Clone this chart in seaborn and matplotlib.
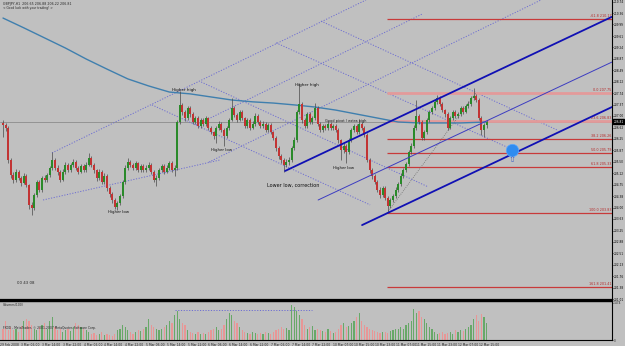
import numpy as np
import pandas as pd
import matplotlib
matplotlib.use("Agg")
import matplotlib.pyplot as plt
import seaborn as sns

# ---------------- data ----------------
first_open = 206.78
close = [206.70,206.61,205.56,205.07,204.91,205.17,204.97,204.81,205.04,204.74,
         204.09,203.99,204.41,204.84,204.58,204.97,204.91,205.07,205.30,205.56,
         205.30,205.17,204.91,205.17,205.40,205.23,205.40,205.49,205.30,205.17,
         205.36,205.23,205.40,205.62,205.40,205.23,204.97,205.17,204.84,205.04,
         204.64,204.45,204.25,204.02,204.15,204.38,204.84,205.30,205.49,205.40,
         205.30,205.46,205.23,205.36,205.23,205.30,205.40,205.17,204.91,204.97,
         205.23,205.36,205.17,205.30,205.46,205.23,205.30,206.80,207.36,207.13,
         206.93,207.26,207.06,206.80,206.93,206.67,206.87,206.74,206.93,206.61,
         206.47,206.34,206.61,206.74,206.54,206.34,206.61,206.87,207.26,207.03,
         206.87,207.13,206.93,206.67,206.87,206.61,206.74,207.00,206.80,206.67,
         206.74,206.54,206.70,206.47,206.28,205.95,205.69,205.56,205.40,205.49,
         205.56,205.95,206.21,207.13,207.39,206.87,206.67,207.06,206.80,206.93,
         207.26,206.74,206.54,206.67,206.61,206.74,206.61,206.67,206.54,206.21,
         205.89,206.02,205.82,206.21,206.54,206.67,206.47,206.74,206.61,206.38,
         205.56,205.23,205.04,204.84,204.58,204.41,204.64,204.32,204.05,204.25,
         204.38,204.58,204.77,205.04,205.23,205.43,205.82,206.02,206.61,207.00,
         206.80,206.28,206.47,206.87,207.13,207.26,207.46,207.59,207.39,207.19,
         207.06,206.61,206.93,207.13,207.00,207.06,207.26,207.13,207.32,207.39,
         207.59,207.65,207.52,206.93,206.54,206.70,206.81]
high = [206.85,206.76,206.66,205.62,205.15,205.25,205.22,205.02,205.12,205.10,
        204.78,204.18,204.48,204.92,204.90,205.04,205.06,205.14,205.37,205.82,
        205.62,205.38,205.24,205.25,205.48,205.46,205.47,205.58,205.55,205.36,
        205.44,205.42,205.48,205.79,205.68,205.46,205.28,205.25,205.22,205.12,
        205.09,204.70,204.52,204.30,204.22,204.46,204.92,205.38,205.62,205.56,
        205.46,205.54,205.50,205.44,205.42,205.38,205.48,205.45,205.22,205.06,
        205.30,205.44,205.42,205.38,205.54,205.52,205.38,206.88,207.80,207.42,
        207.20,207.34,207.32,207.12,207.00,206.99,206.94,206.92,207.00,206.98,
        206.66,206.52,206.68,206.82,206.80,206.60,206.68,206.94,207.59,207.32,
        207.10,207.20,207.18,206.98,206.94,206.92,206.82,207.08,207.06,206.86,
        206.82,206.80,206.78,206.76,206.52,206.34,206.00,205.75,205.62,205.58,
        205.64,206.02,206.30,207.20,208.08,207.45,206.94,207.14,207.12,207.00,
        207.42,207.32,206.80,206.74,206.74,206.82,206.80,206.74,206.72,206.60,
        206.26,206.10,206.08,206.28,206.62,206.74,206.72,206.87,206.80,206.66,
        206.44,205.62,205.30,205.10,204.90,204.66,204.72,204.70,204.38,204.32,
        204.46,204.66,204.85,205.12,205.30,205.50,205.90,206.10,206.70,207.52,
        207.06,206.86,206.54,206.94,207.20,207.34,207.54,207.68,207.64,207.44,
        207.24,207.12,207.00,207.20,207.18,207.14,207.34,207.32,207.40,207.48,
        207.66,207.91,207.72,207.58,207.00,206.78,206.88]
low = [206.32,206.50,205.45,204.98,204.82,204.85,204.90,204.72,204.76,204.66,
       203.95,203.76,203.92,204.35,204.50,204.52,204.84,204.85,205.00,205.24,
       205.22,205.08,204.84,204.86,205.10,205.15,205.18,205.34,205.22,205.10,
       205.12,205.16,205.18,205.35,205.33,205.14,204.88,204.90,204.76,204.78,
       204.55,204.36,204.16,203.94,203.92,204.10,204.32,204.78,205.24,205.32,
       205.22,205.24,205.16,205.18,205.16,205.17,205.24,205.10,204.84,204.71,
       204.92,205.18,205.10,205.12,205.24,205.16,205.04,205.24,206.74,207.02,
       206.84,206.88,206.98,206.72,206.74,206.60,206.62,206.68,206.68,206.54,
       206.40,206.26,206.12,206.55,206.46,206.02,206.28,206.55,206.82,206.96,
       206.80,206.82,206.86,206.60,206.62,206.54,206.56,206.68,206.72,206.60,
       206.60,206.46,206.48,206.40,206.20,205.86,205.60,205.46,205.17,205.32,
       205.40,205.50,205.88,206.14,207.06,206.78,206.60,206.60,206.72,206.74,
       206.88,206.66,206.46,206.48,206.54,206.55,206.54,206.54,206.46,206.12,
       205.56,205.80,205.46,205.76,206.14,206.48,206.40,206.42,206.54,206.30,
       205.48,205.14,204.95,204.76,204.50,204.32,204.35,204.24,203.86,203.98,
       204.18,204.32,204.52,204.70,204.98,205.16,205.36,205.76,205.96,206.55,
       206.72,206.20,206.22,206.40,206.80,207.06,207.20,207.40,207.32,207.12,
       206.98,206.54,206.56,206.88,206.92,206.94,207.00,207.06,207.08,207.26,
       207.32,207.52,207.44,206.86,206.36,206.30,206.62]
volume = [450,760,380,530,380,450,300,570,760,830,
          760,610,450,380,530,610,680,450,760,910,
          530,380,450,300,380,450,340,530,680,610,
          530,450,380,300,230,260,190,230,300,190,
          230,190,150,230,380,450,610,530,380,300,
          230,300,380,340,450,530,830,610,530,450,
          380,450,530,610,760,680,980,1130,830,680,
          610,380,300,260,230,300,230,260,230,300,
          380,450,530,380,450,610,830,1060,980,760,
          680,530,380,300,260,230,300,260,230,260,
          230,300,260,230,300,380,450,530,450,490,
          380,1400,1290,1130,980,830,610,450,530,570,
          380,450,380,340,300,420,340,260,300,450,
          610,680,530,570,680,760,910,1060,760,610,
          530,450,380,340,300,260,300,300,260,340,
          380,420,450,530,450,610,680,760,1210,1060,
          1130,910,830,680,530,450,300,230,260,300,
          230,260,300,230,380,300,380,340,420,530,
          610,830,980,760,1020,910,680]

ma_bar = [0,8,16,24,32,40,48,56,64,72,80,88,96,104,112,120,128,136,144,152,160,168,176,186]
ma_val = [210.20,209.88,209.55,209.22,208.86,208.53,208.21,207.98,207.78,207.72,207.62,207.52,
          207.46,207.42,207.36,207.29,207.19,207.06,206.93,206.80,206.77,206.77,206.77,206.80]

date_tick_bars = list(range(-1, 184, 8))
date_labels = ["29 Feb 2008","3 Mar 06:00","3 Mar 14:00","3 Mar 22:00","4 Mar 06:00","4 Mar 14:00",
               "4 Mar 22:00","5 Mar 06:00","5 Mar 14:00","5 Mar 22:00","6 Mar 06:00","6 Mar 14:00",
               "6 Mar 22:00","7 Mar 06:00","7 Mar 14:00","7 Mar 22:00","10 Mar 07:00","10 Mar 15:00",
               "10 Mar 23:00","11 Mar 07:00","11 Mar 15:00","11 Mar 23:00","12 Mar 07:00","12 Mar 15:00"]

price_ticks = [201.01,201.38,201.76,202.13,202.51,202.88,203.25,203.63,204.00,204.38,204.75,
               205.12,205.50,205.87,206.25,206.62,207.00,207.37,207.74,208.12,208.49,208.87,
               209.24,209.61,209.99,210.36,210.74]

fib_names = ["-61.8","0.0","23.6","38.2","50.0","61.8","100.0","161.8"]
fib_prices = [210.17,207.75,206.83,206.26,205.79,205.33,203.83,201.41]
fib_start_bar = 147.7

# drawn objects: (bar0, price0, bar1, price1)
solid_lines = [(108.5,205.20,234.2,210.24),(138.1,203.43,234.2,207.29)]
median_line = [(121.2,204.25,234.2,208.76)]
dotted_lines = [(18.85,205.79,139.6,210.79),
                (74.2,206.70,161.2,210.33),
                (79.2,205.49,206.9,210.79),
                (15.4,204.25,83.5,205.56),
                (57.3,207.36,141.2,204.09),
                (76.2,208.11,163.5,204.68),
                (105.0,209.39,196.2,205.89),
                (122.3,210.10,213.1,206.54)]
fib_trend = (147.7,203.83,181.9,207.75)
target_bar, target_price = 195.8, 205.89

ann_text = ["Higher high","Higher low","Higher low","Higher high","Good pivot / extra high","Higher low","Lower low, correction"]
ann_bar = [69.6,44.5,84.2,116.9,131.9,130.8,111.5]
ann_price = [207.85,203.86,205.89,208.01,206.83,205.30,204.74]
ann_size = [3.0,2.8,2.8,3.0,2.5,2.8,3.5]

current_price = 206.81
vol_max_label = 1474

# ---------------- drawing ----------------
sns.set_style("white")
plt.rcParams["font.family"] = ["DejaVu Sans"]
BG = "#c0c0c0"
W, H = 625, 346
fig = plt.figure(figsize=(6.25, 3.46), dpi=100, facecolor=BG)
ax = fig.add_axes([0, 1 - 300 / H, 612 / W, 300 / H])
axv = fig.add_axes([0, 6 / H, 612 / W, 39 / H], sharex=ax)
for a in (ax, axv):
    a.set_facecolor(BG)
    for s in ("top", "left"):
        a.spines[s].set_visible(False)
    a.spines["right"].set_color("black")
    a.spines["right"].set_linewidth(0.8)
    a.spines["bottom"].set_color("black")
ax.spines["bottom"].set_linewidth(1.6)
axv.spines["bottom"].set_linewidth(0.8)
axv.spines["top"].set_visible(True)
axv.spines["top"].set_linewidth(1.0)
axv.spines["top"].set_color("black")

n = len(close)
bars = np.arange(n)
opens = [first_open] + close[:-1]
df = pd.DataFrame({"bar": bars, "open": opens, "close": close, "high": high, "low": low, "volume": volume})
df["up"] = df["close"] >= df["open"]

# current price line
ax.axhline(current_price, color="#8c8c8c", lw=0.6, zorder=1)

# dotted lattice
for (b0, p0, b1, p1) in dotted_lines:
    ax.plot([b0, b1], [p0, p1], color="#6e6ed2", lw=0.7, ls=(0, (1.2, 1.6)), zorder=2)

# fib levels
for name, p in zip(fib_names, fib_prices):
    light = name in ("0.0", "23.6")
    ax.hlines(p, fib_start_bar, 234.2, color="#e39a9a" if light else "#c83a3a",
              lw=2.0 if light else 0.9, zorder=2)
    ax.text(233.9, p + 0.025, f"{name} {p:.2f}", fontsize=2.4, color="#b52a2a",
            ha="right", va="bottom", zorder=6)
ax.plot([fib_trend[0], fib_trend[2]], [fib_trend[1], fib_trend[3]], color="#707070",
        lw=0.6, ls=(0, (1, 1.5)), zorder=2)

# moving average
sns.lineplot(x=ma_bar, y=ma_val, ax=ax, color="#3f7fae", lw=1.0, zorder=3)

# candles
bw = 0.7
for _, r in df.iterrows():
    col = "#2a8a2a" if r["up"] else "#c23434"
    ax.vlines(r["bar"], r["low"], r["high"], color="#4a4a4a", lw=0.5, zorder=4)
    h = r["close"] - r["open"]
    if abs(h) < 0.015:
        h = 0.015
    ax.bar(r["bar"], h, bottom=r["open"], width=bw, color=col, edgecolor="none", zorder=5)

# solid channel lines
for (b0, p0, b1, p1) in solid_lines:
    ax.plot([b0, b1], [p0, p1], color="#1010b4", lw=1.3, zorder=6)
for (b0, p0, b1, p1) in median_line:
    ax.plot([b0, b1], [p0, p1], color="#3c3cc0", lw=0.7, zorder=6)

# target circle + arrow
sns.scatterplot(x=[target_bar], y=[target_price], ax=ax, s=80, color="#2f8cf0",
                edgecolor="#5aa8ff", linewidth=0.5, zorder=7, legend=False)
ax.text(target_bar, target_price - 0.33, "⇧", color="#3a5ec8", fontsize=6, ha="center", va="center", zorder=7)

# annotations
for t, b, p, fs in zip(ann_text, ann_bar, ann_price, ann_size):
    ax.text(b, p, t, fontsize=fs, ha="center", va="center", color="#101010", zorder=8)

ax.set_xlim(-1.15, 234.23)
ax.set_ylim(200.98, 210.79)
ax.yaxis.tick_right()
ax.set_yticks(price_ticks)
ax.set_yticklabels([f"{v:.2f}" for v in price_ticks], fontsize=2.1)
ax.tick_params(axis="y", length=0.9, width=0.5, pad=0.3, colors="black")
ax.tick_params(axis="x", bottom=False, labelbottom=False)
ax.set_xlabel(""); ax.set_ylabel("")

# current price box
ax.text(1.0025, current_price, f"{current_price:.2f}", transform=ax.get_yaxis_transform(),
        fontsize=2.1, color="white", ha="left", va="center",
        bbox=dict(boxstyle="square,pad=0.2", fc="black", ec="black"), zorder=10, clip_on=False)

# header texts
ax.text(3 / 612, 1 - 3.5 / 300, "GBPJPY,H1  206.65 206.88 206.22 206.81", transform=ax.transAxes,
        fontsize=2.3, va="center", ha="left")
ax.text(3 / 612, 1 - 8 / 300, "< Good luck with your trading! >", transform=ax.transAxes,
        fontsize=2.2, va="center", ha="left")
ax.text(17 / 612, 1 - 283 / 300, "00 43 08", transform=ax.transAxes, fontsize=2.8, va="center", ha="left")

# volume panel
vcols = ["#68a868" if u else "#e89696" for u in df["up"]]
axv.bar(df["bar"], df["volume"], width=0.5, color=vcols, edgecolor="none")
axv.hlines(1170, 66, 119, color="#6e6ed2", lw=0.7, ls=(0, (1.2, 1.6)))
axv.set_ylim(0, 1540)
axv.yaxis.tick_right()
axv.set_yticks([0, vol_max_label])
axv.set_yticklabels(["0", str(vol_max_label)], fontsize=2.1)
axv.tick_params(axis="y", length=0.9, width=0.5, pad=0.3)
axv.set_xticks(date_tick_bars)
axv.set_xticklabels(date_labels, fontsize=2.2, ha="left")
axv.tick_params(axis="x", length=1.5, width=0.5, pad=0.4)
axv.text(3 / 612, 1 - 4 / 39, "Volumes(100)", transform=axv.transAxes, fontsize=2.2, va="center")
axv.text(3 / 612, 1 - 27 / 39, "FXDD - MetaTrader, © 2001-2007 MetaQuotes Software Corp.",
         transform=axv.transAxes, fontsize=2.2, va="center", zorder=10)
axv.set_xlabel(""); axv.set_ylabel("")

fig.savefig("out.png", dpi=100, facecolor=BG)
